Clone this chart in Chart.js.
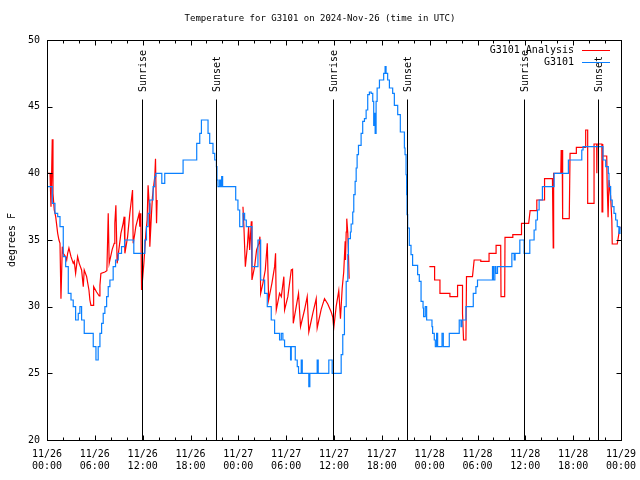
<!DOCTYPE html>
<html>
<head>
<meta charset="utf-8">
<script src="https://cdn.jsdelivr.net/npm/chart.js@4/dist/chart.umd.min.js"></script>
<style>
  body { margin: 0; background: #fff; }
  canvas { display: block; }
</style>
</head>
<body>
<canvas id="graficoTemp" width="640" height="480"></canvas>
<script>
// all times are hours since 11/26 00:00 UTC
const xTickLabels = [
  ['11/26', '00:00'], ['11/26', '06:00'], ['11/26', '12:00'], ['11/26', '18:00'],
  ['11/27', '00:00'], ['11/27', '06:00'], ['11/27', '12:00'], ['11/27', '18:00'],
  ['11/28', '00:00'], ['11/28', '06:00'], ['11/28', '12:00'], ['11/28', '18:00'],
  ['11/29', '00:00']
];
const sunHours = [11.86, 21.16, 35.85, 45.11, 59.89, 69.15];
const sunLabels = ['Sunrise', 'Sunset', 'Sunrise', 'Sunset', 'Sunrise', 'Sunset'];

// G3101 observations
const obsHours = [
  0.00, 0.66, 1.00, 1.34, 1.63, 2.04, 2.34, 2.67, 3.01, 3.29,
  3.59, 3.92, 4.13, 4.34, 4.67, 5.80, 6.14, 6.42, 6.64, 6.85,
  7.05, 7.26, 7.48, 7.68, 7.89, 8.30, 8.60, 8.93, 9.35, 9.73,
  10.89, 12.27, 12.48, 12.68, 12.90, 13.31, 13.52, 13.65, 14.40, 14.77,
  17.07, 18.78, 19.16, 19.37, 20.20, 20.41, 20.82, 21.04, 21.25, 21.32,
  21.45, 21.66, 21.79, 21.91, 22.03, 23.67, 23.95, 24.17, 24.58, 24.79,
  25.00, 25.71, 26.46, 26.80, 27.30, 27.63, 28.13, 28.55, 29.17, 29.39,
  29.59, 29.80, 30.55, 30.64, 31.14, 31.39, 31.55, 31.89, 32.02, 32.84,
  32.97, 33.89, 34.02, 35.35, 35.77, 36.90, 37.10, 37.31, 37.53, 37.73,
  37.81, 38.06, 38.15, 38.35, 38.48, 38.65, 38.78, 38.90, 39.07, 39.40,
  39.60, 39.82, 40.03, 40.23, 40.44, 40.66, 40.86, 40.98, 41.07, 41.16,
  41.28, 41.41, 41.70, 42.23, 42.41, 42.53, 42.73, 42.95, 43.36, 43.57,
  43.99, 44.32, 44.83, 44.91, 45.04, 45.11, 45.16, 45.24, 45.45, 45.66,
  45.86, 46.49, 46.70, 46.92, 47.17, 47.24, 47.45, 47.62, 48.29, 48.37,
  48.58, 48.71, 48.87, 49.00, 49.55, 49.71, 50.46, 51.71, 51.93, 52.05,
  52.55, 53.47, 53.80, 54.00, 55.88, 56.00, 56.18, 56.31, 56.51, 58.31,
  58.60, 58.72, 59.31, 59.85, 60.56, 61.10, 61.32, 61.52, 61.73, 62.14,
  63.61, 65.40, 67.08, 67.24, 69.74, 70.08, 70.41, 70.49, 70.70, 70.90,
  71.12, 71.33, 71.53, 71.74, 71.87
];
const obsTemps = [
  39, 37.75, 37, 36.75, 36, 33.75, 33, 31, 30.5, 30,
  29, 29.5, 30, 29, 28, 27, 26, 27, 28, 28.75,
  29.5, 30, 30.75, 31.5, 32, 33, 33.5, 34, 34.5, 35,
  34, 35, 36, 37, 38, 39, 39.75, 40, 39.25, 40,
  41, 42.25, 43, 44, 43, 42.25, 41.5, 41, 40.5, 39.5,
  39, 39.5, 39, 39.75, 39, 38, 37.25, 36, 37, 36.5,
  36, 33, 35, 32, 31, 30, 29, 28, 27.5, 28,
  27.5, 27, 26, 27, 26, 25.5, 25, 26, 25, 24,
  25, 26, 25, 26, 25, 26.4, 27.9, 30, 31.9, 33.9,
  35.1, 35.6, 36.2, 37.1, 38.4, 39.4, 40.4, 41.4, 42.1, 43,
  43.9, 44.1, 44.75, 45.9, 46.1, 46, 45.4, 43.6, 44.5, 43,
  45.4, 46.4, 47, 47.5, 48, 47.5, 47, 46.4, 46, 45.1,
  44.4, 43.1, 41.9, 41.4, 39.9, 38.4, 36.9, 35.9, 34.6, 33.9,
  33.1, 32.4, 31.9, 30.4, 29.9, 29.25, 30, 29, 28.5, 28,
  27.5, 27, 28, 27, 28, 27, 28, 29, 28.5, 29,
  30, 31, 31.5, 32, 33, 32, 33, 32.5, 33, 34,
  33.5, 34, 35, 34, 35, 35.75, 36.5, 37.25, 38, 39,
  40, 41, 41.75, 42, 41, 40.5, 40, 39, 38, 37.5,
  37, 36.5, 36, 35.5, 36
];

// G3101 Analysis (null = no data)
const anaHours = [
  0.00, 0.38, 0.50, 0.66, 0.75, 0.91, 1.09, 1.34, 1.50, 1.63, 1.75,
  1.92, 2.04, 2.34, 2.47, 2.59, 2.75, 3.01, 3.29, 3.42, 3.59,
  3.84, 4.04, 4.34, 4.55, 4.67, 4.97, 5.26, 5.38, 5.51, 5.80,
  5.85, 6.22, 6.55, 6.64, 6.76, 7.26, 7.51, 7.60, 7.68, 7.80,
  8.18, 8.43, 8.51, 8.64, 8.80, 9.27, 9.55, 9.68, 9.77, 10.10,
  10.39, 10.73, 10.81, 11.02, 11.14, 11.56, 11.64, 11.77, 11.86, 11.98,
  12.15, 12.40, 12.56, 12.68, 12.81, 12.90, 13.11, 13.23, 13.52, 13.61,
  13.74, 13.81,
  18.00,
  24.58, 24.70, 24.88, 25.13, 25.29, 25.42, 25.63, 25.71, 26.04, 26.29,
  26.58, 26.71, 26.80, 27.08, 27.38, 27.63, 27.80, 28.21, 28.55, 28.67,
  28.76, 29.17, 29.39, 29.71, 29.80, 30.21, 30.64, 30.80, 30.89, 31.26,
  31.55, 31.80, 32.30, 32.64, 32.84, 33.34, 33.77, 33.89, 34.39, 34.81,
  35.22, 35.65, 35.85, 35.97, 36.27, 36.60, 36.81, 37.03, 37.22, 37.40,
  37.44, 37.53, 37.60, 37.73, 37.81, 37.90,
  42.00,
  47.96, 48.62, 48.62, 49.29, 49.29, 50.54, 50.54, 51.50, 51.50, 52.12,
  52.12, 52.25, 52.55, 52.62, 53.37, 53.58, 54.41, 54.41, 55.45, 55.45,
  56.33, 56.33, 56.91, 56.95, 57.41, 57.45, 58.43, 58.43, 59.52, 59.52,
  60.42, 60.60, 61.44, 61.44, 62.41, 62.41, 63.40, 63.50, 63.55, 64.45,
  64.50, 64.55, 64.62, 64.68, 65.51, 65.61, 66.40, 66.40, 67.49, 67.57,
  67.82, 67.82, 68.62, 68.62, 68.95, 68.97, 69.00, 69.60, 69.62, 69.66,
  69.74, 69.74, 70.21, 70.26, 70.38, 70.50, 70.70, 70.85, 70.90, 71.53,
  71.74, 71.87
];
const anaTemps = [
  40, 40, 37.5, 42.55, 38.5, 37.25, 36.75, 35.5, 35, 34.75, 30.6,
  34.5, 34, 33.75, 33.5, 34, 34.4, 33.75, 33.25, 33.4, 32.5,
  33.75, 33.25, 32.75, 31.5, 32.75, 32.25, 31.25, 30.5, 30.1, 30.1,
  31.5, 31.1, 30.8, 31.6, 32.5, 32.6, 32.7, 34.9, 37, 33.25,
  34.3, 34.75, 36.25, 37.6, 33.25, 35.5, 36.25, 36.75, 34, 35.2,
  37, 38.75, 34.75, 35.5, 36, 37, 36, 37, 31.25, 32,
  33.25, 35.5, 36.5, 39.1, 37.75, 34.5, 37, 38.25, 39.75, 41.1,
  36.25, 38,
  null,
  37.5, 36, 33, 34.5, 36, 34.25, 36.4, 32, 33, 34.25,
  34.75, 35.25, 31, 31.75, 32.75, 34.75, 30.5, 31.75, 33, 34,
  29.75, 31, 30.75, 32.25, 29.75, 30.75, 32.75, 32.8, 28.75, 30,
  31, 28.5, 29.75, 30.75, 28.1, 29.5, 30.6, 28.4, 29.8, 30.6,
  30.2, 29.6, 29.2, 28.4, 30, 31.2, 29.1, 31.4, 32.6, 34.9,
  33.5, 35.6, 36.6, 35.5, 34, 32.1,
  null,
  33, 33, 32, 32, 31, 31, 30.75, 30.75, 31.6, 31.6,
  29.5, 27.5, 27.5, 32.25, 32.25, 33.5, 33.5, 33.4, 33.4, 34,
  34, 34.6, 34.6, 30.75, 30.75, 35.2, 35.2, 35.4, 35.4, 36.25,
  36.25, 37.2, 37.2, 38, 38, 39.6, 39.6, 34.4, 40, 40,
  41.75, 40, 41.75, 36.6, 36.6, 41.5, 41.5, 41.95, 41.95, 43.25,
  43.25, 37.75, 37.75, 42.2, 42.2, 40, 42.2, 42.2, 37.1, 42.2,
  42.2, 41.3, 41.3, 39.25, 36.7, 39.5, 38.25, 36.5, 34.7, 34.7,
  35.5, 36
];

const MONO = "'DejaVu Sans Mono', monospace";
Chart.defaults.font.family = MONO;
Chart.defaults.font.size = 10;
Chart.defaults.color = '#000';

const pairs = (hs, ts) => hs.map((h, i) => ({ x: h, y: ts[i] }));

// gnuplot-style frame, inward ticks, sun lines, legend and labels
const gnuFrame = {
  id: 'gnuFrame',
  afterDatasetsDraw(chart) {
    const { ctx, chartArea: a, scales } = chart;
    const xs = scales.x, ys = scales.y;
    const L = Math.round(a.left) + 0.5, R = Math.round(a.right) + 0.5;
    const T = Math.round(a.top) + 0.5, B = Math.round(a.bottom) + 0.5;
    ctx.save();
    ctx.strokeStyle = '#000';
    ctx.lineWidth = 1;
    ctx.fillStyle = '#000';
    ctx.font = '10px ' + MONO;

    // sunrise / sunset
    const yTop = Math.round(ys.getPixelForValue(45.6)) + 0.5;
    const yTxt = ys.getPixelForValue(46.1);
    sunHours.forEach((h, i) => {
      const px = Math.round(xs.getPixelForValue(h)) + 0.5;
      ctx.beginPath();
      ctx.moveTo(px, B);
      ctx.lineTo(px, yTop);
      ctx.stroke();
      ctx.save();
      ctx.translate(px + 0.5, yTxt);
      ctx.rotate(-Math.PI / 2);
      ctx.textAlign = 'left';
      ctx.textBaseline = 'middle';
      ctx.fillText(sunLabels[i], 0, 0);
      ctx.restore();
    });

    // border
    ctx.strokeRect(L, T, R - L, B - T);

    // x ticks (major every 6 h, minor every 2 h)
    ctx.beginPath();
    for (let h = 0; h <= 72; h += 2) {
      const px = Math.round(xs.getPixelForValue(h)) + 0.5;
      const len = h % 6 === 0 ? 5 : 3;
      ctx.moveTo(px, B); ctx.lineTo(px, B - len);
      ctx.moveTo(px, T); ctx.lineTo(px, T + len);
    }
    // y ticks
    for (let v = 20; v <= 50; v += 5) {
      const py = Math.round(ys.getPixelForValue(v)) + 0.5;
      ctx.moveTo(L, py); ctx.lineTo(L + 5, py);
      ctx.moveTo(R, py); ctx.lineTo(R - 5, py);
    }
    ctx.stroke();

    // legend
    ctx.textAlign = 'right';
    ctx.textBaseline = 'middle';
    chart.data.datasets.forEach((ds, i) => {
      const ly = 50 + i * 12;
      ctx.fillText(ds.label, 574, ly);
      ctx.strokeStyle = ds.borderColor;
      ctx.beginPath();
      ctx.moveTo(582, ly + 0.5);
      ctx.lineTo(610, ly + 0.5);
      ctx.stroke();
    });

    // title
    ctx.textAlign = 'center';
    ctx.font = '9px ' + MONO;
    ctx.fillText('Temperature for G3101 on 2024-Nov-26 (time in UTC)', 320, 19);

    // y axis label
    ctx.font = '10px ' + MONO;
    ctx.save();
    ctx.translate(12, 240);
    ctx.rotate(-Math.PI / 2);
    ctx.fillText('degrees F', 0, 0);
    ctx.restore();
    ctx.restore();
  }
};

new Chart(document.getElementById('graficoTemp'), {
  type: 'line',
  data: {
    datasets: [
      {
        label: 'G3101 Analysis',
        data: pairs(anaHours, anaTemps),
        borderColor: '#ff0000',
        borderWidth: 1.2,
        pointRadius: 0,
        tension: 0,
        spanGaps: false,
        order: 2
      },
      {
        label: 'G3101',
        data: pairs(obsHours, obsTemps),
        borderColor: '#0a80ff',
        borderWidth: 1.2,
        pointRadius: 0,
        stepped: true,
        order: 1
      }
    ]
  },
  options: {
    responsive: false,
    animation: false,
    devicePixelRatio: 1,
    layout: { padding: { top: 40, right: 19, left: 0, bottom: 0 } },
    scales: {
      x: {
        type: 'linear',
        min: 0,
        max: 72,
        grid: { display: false, drawTicks: false },
        border: { display: false },
        afterFit: s => { s.height = 40; s.paddingLeft = 0; s.paddingRight = 0; },
        ticks: {
          stepSize: 6,
          autoSkip: false,
          maxRotation: 0,
          padding: 8,
          font: { lineHeight: 1.25 },
          callback: v => xTickLabels[Math.round(v / 6)]
        }
      },
      y: {
        min: 20,
        max: 50,
        grid: { display: false, drawTicks: false },
        border: { display: false },
        afterFit: s => { s.width = 47; s.paddingTop = 0; s.paddingBottom = 0; },
        ticks: { stepSize: 5, padding: 7 }
      }
    },
    plugins: {
      legend: { display: false },
      title: { display: false },
      tooltip: { enabled: false }
    }
  },
  plugins: [gnuFrame]
});
</script>
</body>
</html>
